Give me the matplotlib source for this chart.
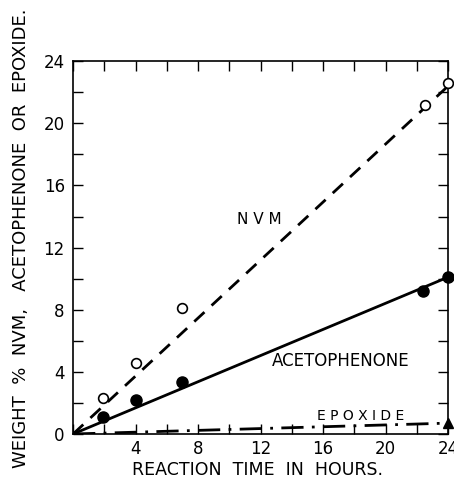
import matplotlib
matplotlib.use("Agg")
import matplotlib.pyplot as plt
import numpy as np

# Data
nvm_time = [1.9, 4.0, 7.0, 22.5, 24.0]
nvm_wt = [2.3, 4.55, 8.1, 21.2, 22.6]
aceto_time = [1.9, 4.0, 7.0, 22.4, 24.0]
aceto_wt = [1.1, 2.2, 3.35, 9.2, 10.1]
epox_time = [24.0]
epox_wt = [0.7]

# Fitted lines (start, end)
line_x = [0, 24]
nvm_line = [0, 22.4]
aceto_line = [0, 10.1]
epox_line = [0, 0.7]

xticks_major = [4, 8, 12, 16, 20, 24]
yticks_major = [0, 4, 8, 12, 16, 20, 24]

plt.rcParams['font.family'] = ['DejaVu Sans']
fig = plt.figure(figsize=(4.54, 4.82), dpi=100)
ax = fig.add_axes([0.161, 0.0996, 0.826, 0.7734])

ax.plot(line_x, nvm_line, color='black', lw=2, linestyle=(0, (5, 3.5)))
ax.plot(line_x, aceto_line, color='black', lw=2, linestyle='-')
ax.plot(line_x, epox_line, color='black', lw=2, linestyle=(0, (8, 3, 1, 3)))

ax.plot(nvm_time, nvm_wt, 'o', mfc='white', mec='black', mew=1.2, ms=7, clip_on=False, zorder=5)
ax.plot(aceto_time, aceto_wt, 'o', color='black', ms=8, clip_on=False, zorder=5)
ax.plot(epox_time, epox_wt, '^', color='black', ms=7, clip_on=False, zorder=5)

ax.set_xlim(0, 24)
ax.set_ylim(0, 24)
ax.set_xticks(xticks_major)
ax.set_yticks(yticks_major)
ax.set_xticks(np.arange(0, 25, 2), minor=True)
ax.set_yticks(np.arange(0, 25, 2), minor=True)
ax.set_xticklabels([str(v) for v in xticks_major])
ax.set_yticklabels([str(v) for v in yticks_major])
ax.tick_params(which='both', direction='in', top=True, right=True, length=7, width=1, labelsize=12)
ax.tick_params(axis='x', pad=4)
ax.tick_params(axis='y', pad=6)
for s in ax.spines.values():
    s.set_linewidth(1.2)

ax.text(11.9, 13.8, 'N V M', ha='center', va='center', fontsize=11)
ax.text(17.1, 4.7, 'ACETOPHENONE', ha='center', va='center', fontsize=12)
ax.text(18.4, 1.15, 'E P O X I D E', ha='center', va='center', fontsize=10)

fig.text(0.568, 0.025, 'REACTION  TIME  IN  HOURS.', ha='center', va='center', fontsize=12.5)
fig.text(0.046, 0.505, 'WEIGHT  %  NVM,   ACETOPHENONE  OR  EPOXIDE.',
         rotation=90, ha='center', va='center', fontsize=13)

fig.savefig('out.png', dpi=100)
